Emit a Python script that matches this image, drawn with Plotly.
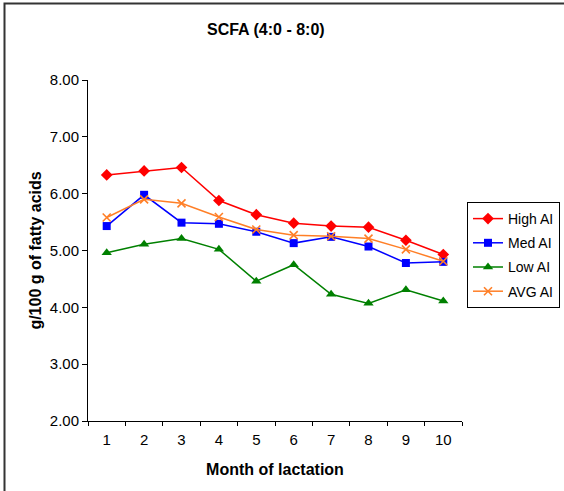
import plotly.graph_objects as go

# Months of lactation (category axis)
months = ["1", "2", "3", "4", "5", "6", "7", "8", "9", "10"]

# SCFA content, g/100 g of fatty acids
high_ai = [6.33, 6.40, 6.46, 5.88, 5.63, 5.48, 5.43, 5.41, 5.18, 4.93]
med_ai = [5.43, 5.98, 5.49, 5.47, 5.33, 5.13, 5.24, 5.07, 4.78, 4.80]
low_ai = [4.96, 5.11, 5.21, 5.02, 4.46, 4.75, 4.23, 4.07, 4.31, 4.11]
avg_ai = [5.58, 5.90, 5.83, 5.59, 5.37, 5.27, 5.25, 5.21, 5.02, 4.81]

y_ticks = [2, 3, 4, 5, 6, 7, 8]
y_tick_text = ["2.00", "3.00", "4.00", "5.00", "6.00", "7.00", "8.00"]

FONT = "Liberation Sans, Arial, sans-serif"

series = [
    ("High AI", high_ai, "#FF0000", "diamond", 9, 0),
    ("Med AI", med_ai, "#0000FF", "square", 8, 0),
    ("Low AI", low_ai, "#008000", "triangle-up", 9, 0),
    ("AVG AI", avg_ai, "#FF7F27", "x-thin", 8, 1.6),
]

fig = go.Figure()
for i, (name, vals, color, symbol, size, mlw) in enumerate(series):
    marker = dict(symbol=symbol, size=size, color=color)
    if mlw:
        marker["line"] = dict(color=color, width=mlw)
    fig.add_trace(go.Scatter(
        x=months, y=vals, name=name, mode="lines+markers",
        line=dict(color=color, width=1.5),
        marker=marker,
        legendgroup=f"g{i}",
    ))

W, H = 564, 491
L, R, T, B = 88, 102, 80, 70
pw, ph = W - L - R, H - T - B

def px_x(x):
    return (x - L) / pw

def px_y(y):
    return (H - B - y) / ph

fig.update_layout(
    width=W, height=H,
    margin=dict(l=L, r=R, t=T, b=B, pad=0, autoexpand=False),
    paper_bgcolor="white", plot_bgcolor="white",
    font=dict(family=FONT, size=15, color="black"),
    showlegend=True,
    legend=dict(
        x=px_x(560), y=px_y(202), xanchor="right", yanchor="top",
        bordercolor="black", borderwidth=1, bgcolor="white",
        font=dict(family=FONT, size=14, color="black"),
        tracegroupgap=3, itemwidth=30,
    ),
    xaxis=dict(
        type="category", tickson="boundaries",
        showline=True, linecolor="black", linewidth=1,
        ticks="outside", ticklen=4, tickcolor="black",
        showgrid=False, zeroline=False,
        tickfont=dict(size=15), ticklabelstandoff=5,
        range=[-0.5, 9.5],
        title=dict(text="<b>Month of lactation</b>", font=dict(size=16), standoff=16),
    ),
    yaxis=dict(
        range=[2, 8], tickvals=y_ticks, ticktext=y_tick_text,
        showline=True, linecolor="black", linewidth=1,
        ticks="outside", ticklen=5, tickcolor="black",
        showgrid=False, zeroline=False,
        tickfont=dict(size=15),
        title=dict(text="<b>g/100 g of fatty acids</b>", font=dict(size=16), standoff=4),
    ),
    annotations=[dict(
        text="<b>SCFA (4:0 - 8:0)</b>", xref="paper", yref="paper",
        x=px_x(266), y=px_y(30), xanchor="center", yanchor="middle",
        showarrow=False, font=dict(family=FONT, size=16, color="black"),
    )],
    shapes=[dict(
        type="rect", xref="paper", yref="paper",
        x0=px_x(4.5), x1=px_x(700), y0=px_y(700), y1=px_y(3.5),
        line=dict(color="#333333", width=2), fillcolor="rgba(0,0,0,0)",
        layer="below",
    )],
)

fig.write_html("out.html")
